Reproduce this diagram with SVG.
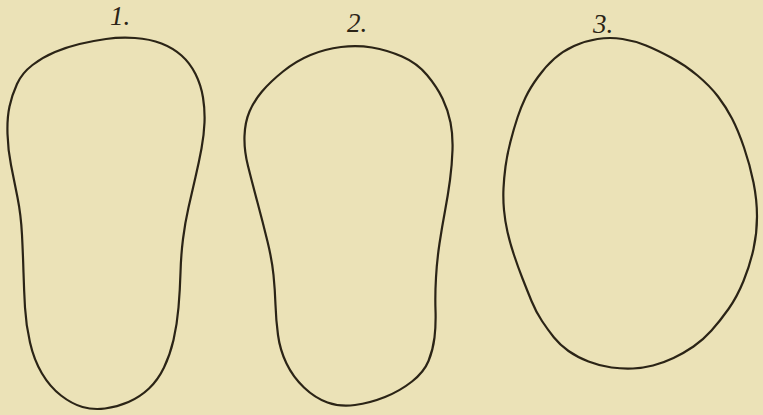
<svg xmlns="http://www.w3.org/2000/svg" width="763" height="415" viewBox="0 0 763 415">
<style>
.o{fill:none;stroke:#2b2416;stroke-width:2.2;stroke-linejoin:round}
.l{font-family:"Liberation Serif",serif;font-style:italic;font-size:27px;fill:#2b2416}
</style>
<rect width="763" height="415" fill="#ebe2b7"/>
<g id="fig1">
<path class="o" d="M135,38 Q150,39 161.5,43.5 Q173,48 181.5,55.5 Q190,63 195.5,74 Q201,85 203,97.5 Q205,110 204.5,122.5 Q204,135 201.5,148.5 Q199,162 195.5,177 Q192,192 188.5,207.5 Q185,223 183,239 Q181,255 180.5,272.5 Q180,290 178.5,307.5 Q177,325 173.5,340 Q170,355 164,367.5 Q158,380 149,388.5 Q140,397 128.5,402 Q117,407 105,408.5 Q93,410 82.5,407 Q72,404 61,395.5 Q50,387 42,373.5 Q34,360 30,342.5 Q26,325 25,307.5 Q24,290 23.5,272.5 Q23,255 22,235 Q21,215 17.5,197.5 Q14,180 11,165 Q8,150 7.5,134 Q7,118 9.5,106.5 Q12,95 17,84 Q22,73 32.5,65 Q43,57 55,52 Q67,47 79.5,44 Q92,41 106,39 Q120,37 135,38 Z"/>
<text class="l" x="110" y="25">1.</text>
</g>
<g id="fig2">
<path class="o" d="M372,47.5 Q387,50 402,56.5 Q417,63 427,75 Q437,87 442.5,98.5 Q448,110 450.5,122.5 Q453,135 452.5,150 Q452,165 450,180 Q448,195 445,211 Q442,227 439.5,243.5 Q437,260 436,277.5 Q435,295 435.5,310 Q436,325 434.5,337.5 Q433,350 428.5,361 Q424,372 412,381.5 Q400,391 385,397 Q370,403 355,405 Q340,407 327.5,402.5 Q315,398 304,387.5 Q293,377 286.5,363.5 Q280,350 278,335 Q276,320 275.5,305 Q275,290 273.5,275 Q272,260 267.5,241.5 Q263,223 257.5,202.5 Q252,182 248,166 Q244,150 244.5,136 Q245,122 249.5,111.5 Q254,101 262,91.5 Q270,82 283,71.5 Q296,61 310.5,55 Q325,49 341,47 Q357,45 372,47.5 Z"/>
<text class="l" x="347" y="32">2.</text>
</g>
<g id="fig3">
<path class="o" d="M622.5,39 Q635,41 646,45.5 Q657,50 671,57.5 Q685,65 697.5,75.5 Q710,86 718,96.5 Q726,107 732,118.5 Q738,130 744,147.5 Q750,165 753.5,182.5 Q757,200 757,216.5 Q757,233 753.5,249 Q750,265 743.5,281 Q737,297 728.5,309 Q720,321 711.5,330.5 Q703,340 693.5,346.5 Q684,353 673.5,358 Q663,363 653,365.5 Q643,368 633,368.5 Q623,369 611.5,367.5 Q600,366 588.5,361.5 Q577,357 568.5,351 Q560,345 554,337.5 Q548,330 542,321 Q536,312 531.5,301 Q527,290 522.5,278.5 Q518,267 514,255 Q510,243 507.5,232 Q505,221 504,210 Q503,199 503.5,188.5 Q504,178 505.5,166.5 Q507,155 510.5,141.5 Q514,128 517.5,117.5 Q521,107 525.5,97.5 Q530,88 538,77 Q546,66 554.5,58.5 Q563,51 574,46 Q585,41 597.5,39 Q610,37 622.5,39 Z"/>
<text class="l" x="593" y="33">3.</text>
</g>
</svg>
